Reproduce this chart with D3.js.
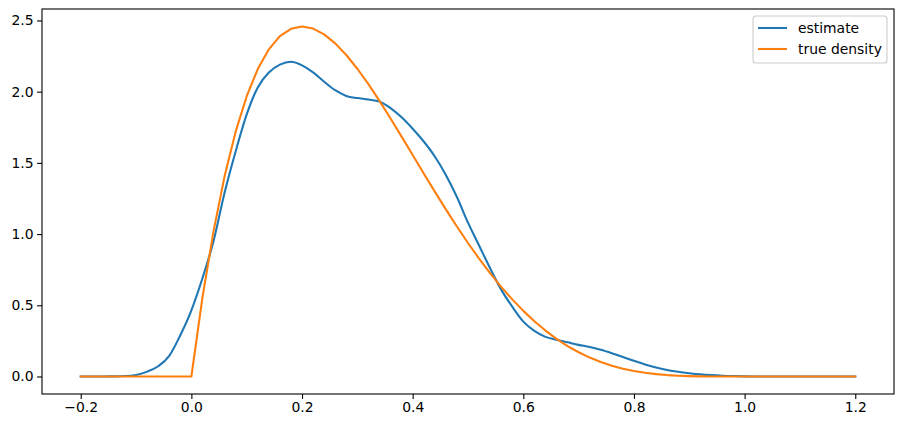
<!DOCTYPE html>
<html>
<head>
<meta charset="utf-8">
<script src="https://cdn.jsdelivr.net/npm/d3@7"></script>
<style>
  body { margin: 0; background: #fff; }
  svg text { font-family: "DejaVu Sans", sans-serif; fill: #000; }
</style>
</head>
<body>
<svg id="chart" width="904" height="428"></svg>
<script>
// grid: -0.2 .. 1.2, step 0.02
const xs = d3.range(71).map(i => +(-0.2 + i * 0.02).toFixed(2));

// kernel density estimate
const estimate = [
  0, 0, 0.0005, 0.001, 0.003, 0.011, 0.034, 0.072, 0.145, 0.29,
  0.465, 0.69, 0.95, 1.29, 1.58, 1.84, 2.03, 2.135, 2.19, 2.21,
  2.185, 2.135, 2.07, 2.01, 1.97, 1.955, 1.945, 1.93, 1.885, 1.82,
  1.74, 1.65, 1.545, 1.415, 1.26, 1.08, 0.92, 0.76, 0.61, 0.49,
  0.385, 0.32, 0.278, 0.258, 0.24, 0.222, 0.207, 0.187, 0.163, 0.137,
  0.11, 0.085, 0.063, 0.046, 0.033, 0.023, 0.015, 0.0095, 0.0055, 0.003,
  0.001, 0, 0, 0, 0, 0, 0, 0, 0, 0, 0
];

// true density
const trueDensity = [
  0, 0, 0, 0, 0, 0, 0, 0, 0, 0,
  0, 0.5534, 1.0192, 1.4053, 1.7193, 1.9683, 2.1589, 2.2975, 2.3898, 2.4414,
  2.4576, 2.4430, 2.4021, 2.3390, 2.2574, 2.1609, 2.0526, 1.9354, 1.8119, 1.6845,
  1.5552, 1.4259, 1.2981, 1.1734, 1.0529, 0.9375, 0.8281, 0.7253, 0.6297, 0.5415,
  0.4608, 0.3878, 0.3225, 0.2646, 0.2139, 0.1701, 0.1328, 0.1015, 0.0756, 0.0548,
  0.0384, 0.0258, 0.0165, 0.0099, 0.0055, 0.0027, 0.0011, 0.0004, 0.0001, 0,
  0, 0, 0, 0, 0, 0, 0, 0, 0, 0, 0
];

const xTicks = [-0.2, 0.0, 0.2, 0.4, 0.6, 0.8, 1.0, 1.2];
const yTicks = [0.0, 0.5, 1.0, 1.5, 2.0, 2.5];
const seriesNames = ["estimate", "true density"];
const seriesColors = ["#1f77b4", "#ff7f0e"];

const margin = {left: 42, top: 9, right: 10, bottom: 34};
const width = 904 - margin.left - margin.right;
const height = 428 - margin.top - margin.bottom;

const svg = d3.select("#chart");
const g = svg.append("g").attr("transform", `translate(${margin.left},${margin.top})`);

const xScale = d3.scaleLinear().domain([-0.27, 1.27]).range([0, width]);
const yScale = d3.scaleLinear().domain([-0.1229, 2.5805]).range([height, 0]);

const fmt = d => d3.format(".1f")(d).replace("-", "\u2212");

const xAxis = g.append("g")
  .attr("transform", `translate(0,${height})`)
  .call(d3.axisBottom(xScale).tickValues(xTicks).tickFormat(fmt).tickSize(4.9).tickPadding(3.5));
const yAxis = g.append("g")
  .call(d3.axisLeft(yScale).tickValues(yTicks).tickFormat(fmt).tickSize(4.9).tickPadding(3.5));

[xAxis, yAxis].forEach(a => {
  a.select(".domain").remove();
  a.selectAll(".tick line").attr("stroke", "#000").attr("stroke-width", 1.1);
  a.selectAll(".tick text").attr("font-size", 13.9).attr("fill", "#000");
});

// estimate is smoothed, the true density keeps its sharp corner at 0
const curves = [d3.curveMonotoneX, d3.curveLinear];

[estimate, trueDensity].forEach((s, k) => {
  const line = d3.line()
    .x((d, i) => xScale(xs[i]))
    .y(d => yScale(d))
    .curve(curves[k]);
  g.append("path")
    .datum(s)
    .attr("fill", "none")
    .attr("stroke", seriesColors[k])
    .attr("stroke-width", 2.08)
    .attr("stroke-linejoin", "round")
    .attr("stroke-linecap", "square")
    .attr("d", line);
});

// frame
g.append("rect")
  .attr("width", width).attr("height", height)
  .attr("fill", "none").attr("stroke", "#000").attr("stroke-width", 1.1);

// legend
const legend = g.append("g").attr("transform", `translate(${753 - margin.left},${16 - margin.top})`);
legend.append("rect")
  .attr("width", 134).attr("height", 47)
  .attr("rx", 3).attr("ry", 3)
  .attr("fill", "#fff").attr("fill-opacity", 0.8)
  .attr("stroke", "#cccccc").attr("stroke-width", 1.1);

const item = legend.selectAll(".item")
  .data(seriesNames)
  .enter().append("g")
  .attr("class", "item")
  .attr("transform", (d, i) => `translate(0,${12 + i * 21})`);
item.append("line")
  .attr("x1", 5).attr("x2", 34)
  .attr("stroke", (d, i) => seriesColors[i])
  .attr("stroke-width", 2.08);
item.append("text")
  .attr("x", 45).attr("dy", "0.35em")
  .attr("font-size", 13.9)
  .text(d => d);
</script>
</body>
</html>
